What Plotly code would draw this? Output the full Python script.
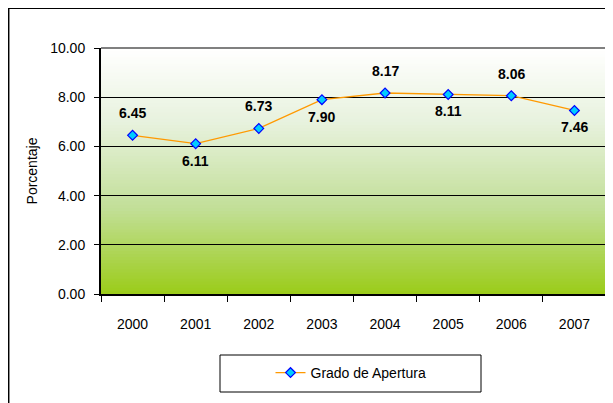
import plotly.graph_objects as go

years = ["2000", "2001", "2002", "2003", "2004", "2005", "2006", "2007"]
values = [6.45, 6.11, 6.73, 7.90, 8.17, 8.11, 8.06, 7.46]
label_side = ["top", "bottom", "top", "bottom", "top", "bottom", "top", "bottom"]
series_name = "Grado de Apertura"
y_title = "Porcentaje"

# figure is placed in the page with an 8px body margin
W, H = 613, 403
L, T = 93, 40
R = W - 598
B = H - 286
pw, ph = W - L - R, H - T - B

def px_x(x):
    return (x - L) / pw

def px_y(y):
    return (H - B - y) / ph

FONT = "Liberation Sans, Arial"

fig = go.Figure()
fig.add_trace(go.Scatter(
    x=years, y=values, mode="lines+markers", name=series_name,
    line=dict(color="#FF9900", width=1.3),
    marker=dict(symbol="diamond", size=7.5, color="#00CCFF",
                line=dict(color="#0000FF", width=1.2)),
    showlegend=True,
))

annotations = []
for i, (v, side) in enumerate(zip(values, label_side)):
    annotations.append(dict(
        x=i, y=v, xref="x", yref="y", text="<b>%.2f</b>" % v, showarrow=False,
        yshift=22 if side == "top" else -17,
        font=dict(family=FONT, size=14, color="#000000"),
        xanchor="center", yanchor="middle"))

stops = [(0.0, (155, 204, 25)), (0.35, (194, 223, 152)), (0.7, (232, 242, 222)), (1.0, (255, 255, 255))]

def col(f):
    for (f0, c0), (f1, c1) in zip(stops[:-1], stops[1:]):
        if f0 <= f <= f1:
            t = (f - f0) / (f1 - f0)
            return "rgb(%d,%d,%d)" % tuple(round(a + (b - a) * t) for a, b in zip(c0, c1))
    return "rgb(255,255,255)"

N = 80
shapes = []
for i in range(N):
    f0, f1 = i / N, (i + 1) / N
    shapes.append(dict(type="rect", xref="paper", yref="paper", x0=0, x1=1, y0=f0, y1=min(f1 + 0.003, 1),
                       fillcolor=col((f0 + f1) / 2), line=dict(width=0), layer="below"))
shapes.append(dict(type="line", xref="paper", yref="paper", x0=0, x1=1, y0=1, y1=1,
                   line=dict(color="#808080", width=2), layer="above"))
shapes.append(dict(type="line", xref="paper", yref="paper", x0=1, x1=1, y0=0, y1=1,
                   line=dict(color="#808080", width=1), layer="above"))
# outer chart frame
shapes.append(dict(type="rect", xref="paper", yref="paper",
                   x0=px_x(0.7), x1=px_x(640), y0=px_y(440), y1=px_y(0.3),
                   line=dict(color="#000000", width=1.5), fillcolor="rgba(0,0,0,0)", layer="above"))
# legend box
shapes.append(dict(type="rect", xref="paper", yref="paper",
                   x0=px_x(212), x1=px_x(473), y0=px_y(384), y1=px_y(347),
                   line=dict(color="#000000", width=1), fillcolor="rgba(0,0,0,0)", layer="above"))

fig.update_layout(
    width=W, height=H,
    margin=dict(l=L, r=R, t=T, b=B, autoexpand=False),
    paper_bgcolor="white", plot_bgcolor="white",
    font=dict(family=FONT, size=14, color="#000000"),
    shapes=shapes,
    annotations=annotations,
    showlegend=True,
    legend=dict(orientation="h", x=px_x(343), xanchor="center", y=px_y(365), yanchor="middle",
                bgcolor="rgba(0,0,0,0)", borderwidth=0, font=dict(size=14)),
    xaxis=dict(type="category", range=[-0.5, 7.5], showgrid=False, zeroline=False,
               showline=True, linecolor="#000000", linewidth=2,
               ticks="outside", tickson="boundaries", ticklen=6, tickcolor="#000000",
               ticklabelstandoff=16, tickfont=dict(size=14)),
    yaxis=dict(range=[0, 10], dtick=2, tickformat=".2f", showgrid=True, gridcolor="#000000",
               gridwidth=1, zeroline=False, showline=True, linecolor="#000000", linewidth=2,
               ticks="outside", ticklen=5, tickcolor="#000000", tickfont=dict(size=14),
               ticklabelstandoff=6,
               title=dict(text=y_title, font=dict(size=14), standoff=9)),
)

fig.write_html("out.html")
